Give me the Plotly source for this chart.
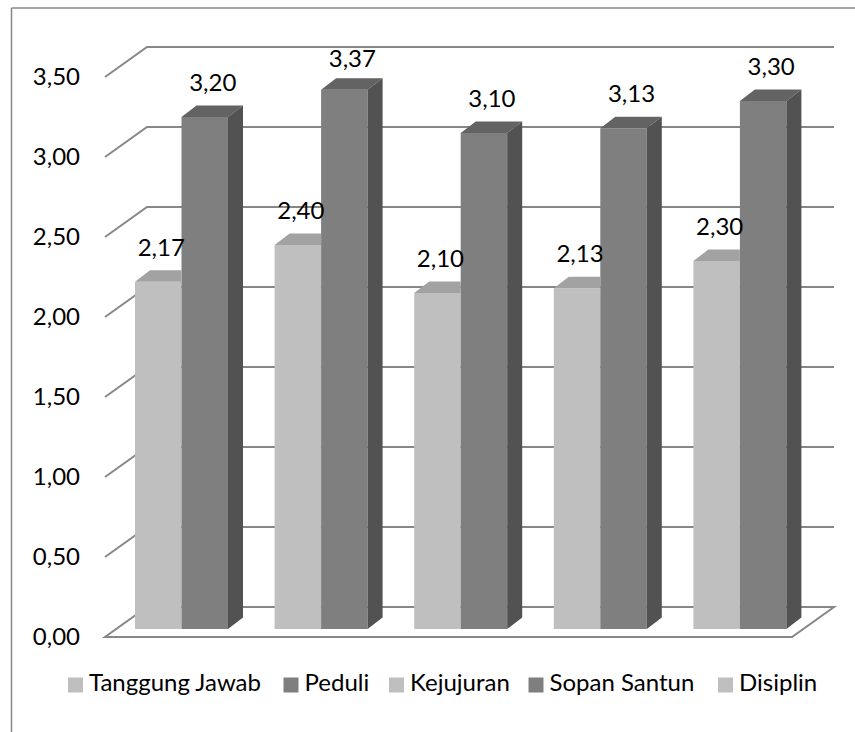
import plotly.graph_objects as go

# ---------------- data ----------------
groups = ["1", "2", "3", "4", "5"]
light_values = [2.17, 2.40, 2.10, 2.13, 2.30]
dark_values = [3.20, 3.37, 3.10, 3.13, 3.30]
legend_names = ["Tanggung Jawab", "Peduli", "Kejujuran", "Sopan Santun", "Disiplin"]
legend_shades = ["light", "dark", "light", "dark", "light"]
tick_values = [0.0, 0.5, 1.0, 1.5, 2.0, 2.5, 3.0, 3.5]
tick_labels = ["0,00", "0,50", "1,00", "1,50", "2,00", "2,50", "3,00", "3,50"]

# ---------------- styling / geometry ----------------
W, H = 855, 732
AXIS_PX = 84                 # pixel column where the value axis sits
PX_PER_UNIT = 160.0
FRONT_ZERO_PX = 637          # pixel row of value 0 at the front of the floor
Y_MIN = (FRONT_ZERO_PX - H) / PX_PER_UNIT
Y_MAX = FRONT_ZERO_PX / PX_PER_UNIT

FLOOR_LEFT, FLOOR_RIGHT = 105, 792
WALL_DX, WALL_DY = 42, 30 / PX_PER_UNIT
BAR_BASE = 8 / PX_PER_UNIT
BAR_DX, BAR_DY = 15, 11.5 / PX_PER_UNIT
FIRST_LEFT, STEP, BAR_W = 135, 139.6, 46.5
LABEL_UP = 0.2
LABEL_MAX = 3.55

C_LIGHT, C_LIGHT_TOP = "#BFBFBF", "#A2A2A2"
C_DARK, C_DARK_TOP, C_DARK_SIDE = "#7F7F7F", "#636363", "#525252"
C_GRID = "#878787"
FONT = "Lato"
FS = 24

light_left = [FIRST_LEFT + STEP * i for i in range(len(groups))]
dark_left = [l + BAR_W for l in light_left]
light_x = [l + BAR_W / 2 for l in light_left]
dark_x = [l + BAR_W / 2 for l in dark_left]

fig = go.Figure()

# front faces (real bars)
fig.add_trace(go.Bar(x=light_x, y=light_values, base=BAR_BASE, width=BAR_W,
                     marker=dict(color=C_LIGHT, line=dict(width=0)),
                     showlegend=False, hoverinfo="skip"))
fig.add_trace(go.Bar(x=dark_x, y=dark_values, base=BAR_BASE, width=BAR_W,
                     marker=dict(color=C_DARK, line=dict(width=0)),
                     showlegend=False, hoverinfo="skip"))

# light tops (visible part, hidden on right by the taller dark bar)
lx, ly = [], []
for l, v in zip(light_left, light_values):
    t = BAR_BASE + v
    r = l + BAR_W
    lx += [l, r, r, l + BAR_DX, l, None]
    ly += [t, t, t + BAR_DY, t + BAR_DY, t, None]
fig.add_trace(go.Scatter(x=lx, y=ly, mode="lines", fill="toself", fillcolor=C_LIGHT_TOP,
                         line=dict(width=0, color=C_LIGHT_TOP), showlegend=False, hoverinfo="skip"))

# dark tops and sides
tx, ty, sx, sy = [], [], [], []
for l, v in zip(dark_left, dark_values):
    t = BAR_BASE + v
    r = l + BAR_W
    tx += [l, r, r + BAR_DX, l + BAR_DX, l, None]
    ty += [t, t, t + BAR_DY, t + BAR_DY, t, None]
    sx += [r, r + BAR_DX, r + BAR_DX, r, r, None]
    sy += [BAR_BASE, BAR_BASE + BAR_DY, t + BAR_DY, t, BAR_BASE, None]
fig.add_trace(go.Scatter(x=tx, y=ty, mode="lines", fill="toself", fillcolor=C_DARK_TOP,
                         line=dict(width=0, color=C_DARK_TOP), showlegend=False, hoverinfo="skip"))
fig.add_trace(go.Scatter(x=sx, y=sy, mode="lines", fill="toself", fillcolor=C_DARK_SIDE,
                         line=dict(width=0, color=C_DARK_SIDE), showlegend=False, hoverinfo="skip"))

# data labels
def fmt(v):
    return f"{v:.2f}".replace(".", ",")

def label_y(v):
    return BAR_BASE + min(v + LABEL_UP, LABEL_MAX)

fig.add_trace(go.Scatter(x=[x + 3 for x in light_x], y=[label_y(v) for v in light_values],
                         mode="text", text=[fmt(v) for v in light_values], textposition="middle center",
                         textfont=dict(family=FONT, size=FS, color="#000000"),
                         showlegend=False, hoverinfo="skip", cliponaxis=False))
fig.add_trace(go.Scatter(x=[x + 8 for x in dark_x], y=[label_y(v) for v in dark_values],
                         mode="text", text=[fmt(v) for v in dark_values], textposition="middle center",
                         textfont=dict(family=FONT, size=FS, color="#000000"),
                         showlegend=False, hoverinfo="skip", cliponaxis=False))

# custom legend (square swatch + text)
legend_sq_x = [75.5, 291.0, 396.5, 536.0, 725.5]
LEG_SQ = 15
LEG_GAP = 6
legend_y = (FRONT_ZERO_PX - 685) / PX_PER_UNIT
for name, shade, sxp in zip(legend_names, legend_shades, legend_sq_x):
    col = C_LIGHT if shade == "light" else C_DARK
    fig.add_trace(go.Scatter(x=[sxp], y=[legend_y], mode="markers",
                             marker=dict(symbol="square", size=LEG_SQ, color=col, line=dict(width=0)),
                             name=name, showlegend=False, hoverinfo="skip", cliponaxis=False))
    fig.add_trace(go.Scatter(x=[sxp + LEG_SQ / 2 + LEG_GAP], y=[legend_y], mode="text", text=[name],
                             textposition="middle right",
                             textfont=dict(family=FONT, size=FS, color="#000000"),
                             name=name, showlegend=False, hoverinfo="skip", cliponaxis=False))

# gridlines on back wall + left wall diagonals (below traces)
shapes = []
for v in tick_values:
    if v == 0:
        path = (f"M{FLOOR_LEFT},{v} L{FLOOR_RIGHT},{v} L{FLOOR_RIGHT + WALL_DX},{v + WALL_DY} "
                f"L{FLOOR_LEFT + WALL_DX},{v + WALL_DY} Z")
    else:
        path = (f"M{FLOOR_LEFT},{v} L{FLOOR_LEFT + WALL_DX},{v + WALL_DY} "
                f"L{FLOOR_RIGHT + WALL_DX},{v + WALL_DY}")
    shapes.append(dict(type="path", xref="x", yref="y", path=path, layer="below",
                       line=dict(color=C_GRID, width=2)))

# chart-area frame (left and top edge visible)
def py_to_paper_y(py):
    return (H - py) / H

shapes.append(dict(type="line", xref="paper", yref="paper",
                   x0=11.5 / W, x1=11.5 / W,
                   y0=py_to_paper_y(8), y1=py_to_paper_y(740),
                   line=dict(color=C_GRID, width=1.5)))
shapes.append(dict(type="line", xref="paper", yref="paper",
                   x0=11.5 / W, x1=870 / W,
                   y0=py_to_paper_y(8), y1=py_to_paper_y(8),
                   line=dict(color=C_GRID, width=1.5)))

fig.update_layout(
    width=W, height=H, autosize=False,
    margin=dict(l=0, r=0, t=0, b=0, pad=0),
    paper_bgcolor="white", plot_bgcolor="rgba(0,0,0,0)",
    shapes=shapes, showlegend=False, barmode="overlay",
    xaxis=dict(range=[0, W], visible=False, fixedrange=True),
    yaxis=dict(range=[Y_MIN, Y_MAX], tickvals=tick_values, ticktext=tick_labels,
               anchor="free", position=AXIS_PX / W,
               showgrid=False, zeroline=False, showline=False, ticks="",
               ticklabelstandoff=4,
               tickfont=dict(family=FONT, size=FS, color="#000000"), fixedrange=True),
)

fig.write_html("out.html", config={"displayModeBar": False},
               post_script="document.body.style.margin='0';")
